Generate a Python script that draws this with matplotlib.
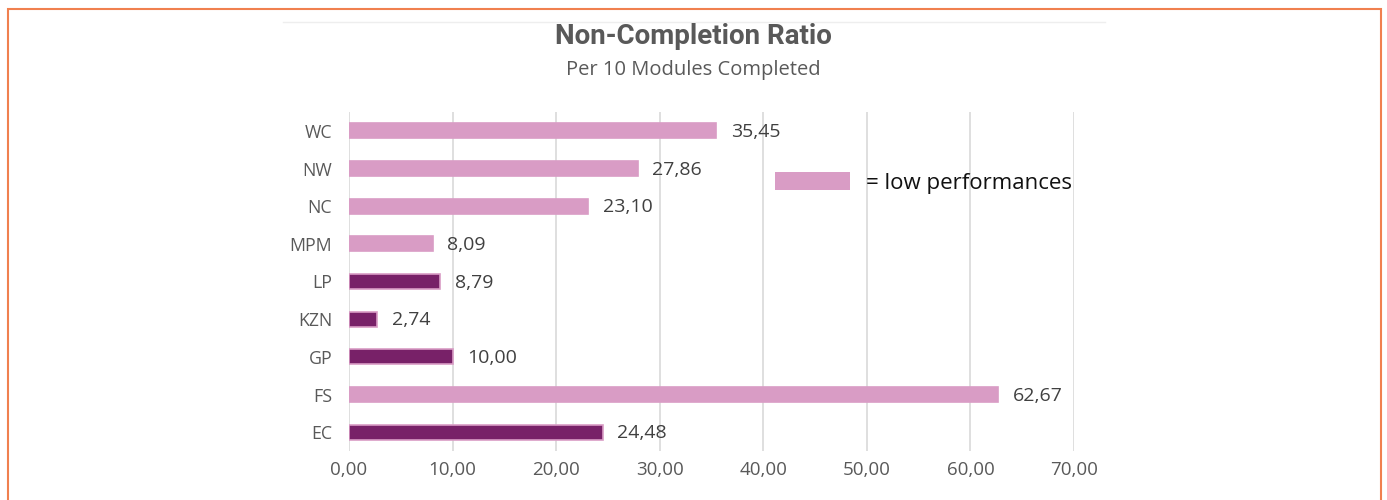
import matplotlib.pyplot as plt
import matplotlib.patches as mpatches

# Data (bottom to top as drawn)
provinces = ["EC", "FS", "GP", "KZN", "LP", "MPM", "NC", "NW", "WC"]
ratios = [24.48, 62.67, 10.00, 2.74, 8.79, 8.09, 23.10, 27.86, 35.45]
low_perf = [False, True, False, False, False, True, True, True, True]
x_ticks = [0, 10, 20, 30, 40, 50, 60, 70]

PINK = "#D99CC5"
PURPLE = "#782168"

plt.rcParams["font.family"] = ["Open Sans", "DejaVu Sans"]

fig = plt.figure(figsize=(13.87, 5), dpi=100)
ax = fig.add_axes([0.2516, 0.098, 0.5227, 0.678])

colors = [PINK if lp else PURPLE for lp in low_perf]
ax.barh(range(len(provinces)), ratios, height=0.4, color=colors,
        edgecolor=PINK, linewidth=1.2, zorder=3)

for i, v in enumerate(ratios):
    ax.text(v + 1.4, i - 0.03, f"{v:.2f}".replace(".", ","), va="center", ha="left",
            fontsize=14, color="#404040")

ax.set_xlim(0, 70)
ax.set_ylim(-0.5, len(provinces) - 0.5)
ax.set_yticks(range(len(provinces)))
ax.set_yticklabels(provinces, fontsize=12.8, color="#595959")
ax.set_xticks(x_ticks)
ax.set_xticklabels([f"{t:.2f}".replace(".", ",") for t in x_ticks],
                   fontsize=13.5, color="#595959")
ax.tick_params(axis="both", length=0)
ax.tick_params(axis="x", pad=7)
ax.tick_params(axis="y", pad=12)
ax.grid(axis="x", color="#D9D9D9", linewidth=1.2, zorder=0)
for s in ax.spines.values():
    s.set_visible(False)

# Titles
fig.text(0.4996, 0.928, "Non-Completion Ratio", ha="center", va="center",
         fontsize=20, fontweight="bold", color="#595959",
         family=["Roboto", "DejaVu Sans"])
fig.text(0.4996, 0.861, "Per 10 Modules Completed", ha="center", va="center",
         fontsize=14.5, color="#595959")

# Custom legend box
fig.patches.append(mpatches.Rectangle((775 / 1387, 1 - 190 / 500), 75 / 1387, 18 / 500,
                                      transform=fig.transFigure, facecolor=PINK,
                                      edgecolor="none"))
fig.text(866 / 1387, 1 - 183 / 500, "= low performances", ha="left", va="center",
         fontsize=16, color="#111111")

# Faint chart border line and orange frame
fig.add_artist(plt.Line2D([283 / 1387, 1105 / 1387], [1 - 22 / 500, 1 - 22 / 500],
                          transform=fig.transFigure, color="#EEEEEE", linewidth=1))
fig.patches.append(mpatches.Rectangle((8 / 1387, -0.05), 1373 / 1387, 1.05 - 9.5 / 500,
                                      transform=fig.transFigure, facecolor="none",
                                      edgecolor="#F0804F", linewidth=1.5))

fig.savefig("out.png", dpi=100)
